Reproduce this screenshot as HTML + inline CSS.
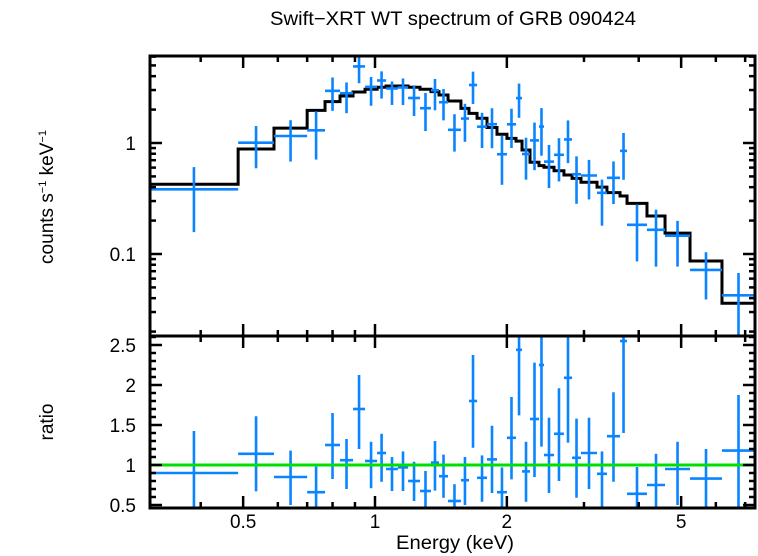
<!DOCTYPE html>
<html><head><meta charset="utf-8"><style>
html,body{margin:0;padding:0;background:#fff;overflow:hidden;}
svg{display:block;font-family:"Liberation Sans",sans-serif;}
</style></head><body>
<svg id="chart" width="758" height="556" viewBox="0 0 758 556" xmlns="http://www.w3.org/2000/svg">
<text x="453" y="25" font-size="19" text-anchor="middle" textLength="366" lengthAdjust="spacingAndGlyphs">Swift−XRT WT spectrum of GRB 090424</text>
<text transform="translate(53,197) rotate(-90)" font-size="19" text-anchor="middle">counts s<tspan font-size="11" dy="-7">−1</tspan><tspan dy="7"> keV</tspan><tspan font-size="11" dy="-7">−1</tspan></text>
<text transform="translate(53,422) rotate(-90)" font-size="19" text-anchor="middle">ratio</text>
<text x="455" y="549" font-size="19" text-anchor="middle" textLength="118" lengthAdjust="spacingAndGlyphs">Energy (keV)</text>
<defs>
<clipPath id="ctop"><rect x="150" y="56" width="605" height="280"/></clipPath>
<clipPath id="cbot"><rect x="150" y="336" width="605" height="172"/></clipPath>
</defs>
<g id="topPanel" clip-path="url(#ctop)"></g>
<g id="botPanel" clip-path="url(#cbot)"></g>
<g id="axes"></g>
</svg>
<script>
// bin edges (keV)
const edges=[0.306,0.487,0.588,0.70,0.769,0.832,0.891,0.949,1.011,1.06,1.128,1.19,1.267,1.342,1.40,1.468,1.571,1.639,1.71,1.802,1.899,2.001,2.099,2.166,2.259,2.368,2.431,2.563,2.70,2.818,2.953,3.213,3.385,3.626,3.762,4.178,4.594,5.239,6.197,7.373];
// model counts s-1 keV-1 per bin
const model=[0.425,0.883,1.36,1.97,2.36,2.65,2.88,3.05,3.18,3.26,3.26,3.18,3.05,2.90,2.71,2.39,2.05,1.85,1.67,1.38,1.20,1.10,1.04,0.865,0.67,0.625,0.604,0.563,0.515,0.48,0.443,0.40,0.357,0.333,0.286,0.22,0.154,0.0865,0.036];
// data/model ratio and its error bounds
const ratio=[0.90,1.14,0.85,0.66,1.25,1.06,1.70,1.05,1.15,0.95,0.97,0.80,0.675,1.03,0.86,0.55,0.81,1.80,0.84,1.07,0.66,1.34,2.44,0.92,1.575,2.25,1.125,1.39,2.09,1.09,1.15,0.89,1.36,2.55,0.64,0.75,0.95,0.83,1.18];
const ratioHi=[1.425,1.61,1.18,0.98,1.65,1.325,2.125,1.29,1.39,1.10,1.17,1.04,0.925,1.30,1.13,0.76,1.10,2.375,1.12,1.49,0.97,1.85,3.3,1.29,2.28,3.3,1.59,1.96,3.1,1.58,1.59,1.17,1.91,3.7,0.975,1.14,1.29,1.20,1.875];
const ratioLo=[0.37,0.67,0.50,0.36,0.825,0.70,1.20,0.71,0.79,0.675,0.675,0.55,0.42,0.68,0.59,0.35,0.50,1.215,0.54,0.65,0.35,0.82,1.62,0.54,0.85,1.23,0.65,0.80,1.28,0.59,0.70,0.45,0.79,1.40,0.30,0.35,0.50,0.45,0.0];
const xTicks=[0.5,1,2,5];
const xMinor=[0.4,0.6,0.7,0.8,0.9,3,4,6,7];
const yTopMajor=[0.1,1];
const yTopMinor=[0.02,0.03,0.04,0.05,0.06,0.07,0.08,0.09,0.2,0.3,0.4,0.5,0.6,0.7,0.8,0.9,2,3,4,5,6];
const yBotMajor=[0.5,1,1.5,2,2.5];

const L=150,R=755,T=56,M=336,B=508;
const xs=e=>375+438*Math.log10(e);
const yt=v=>143-111*Math.log10(Math.max(v,1e-4));
const yb=r=>465-80*(r-1);
const NS='http://www.w3.org/2000/svg';
function mk(parent,tag,at){const el=document.createElementNS(NS,tag);for(const k in at)el.setAttribute(k,at[k]);parent.appendChild(el);return el;}
const gTop=document.getElementById('topPanel'),gBot=document.getElementById('botPanel'),gAx=document.getElementById('axes');
const blue='#0a84ff';
let d='';
for(let i=0;i<model.length;i++){const y=yt(model[i]);d+=(i?'L':'M')+xs(edges[i])+','+y+'L'+xs(edges[i+1])+','+y;}
const ml=mk(gTop,'path',{d:d,fill:'none',stroke:'#000','stroke-width':3});


for(let i=0;i<ratio.length;i++){
 const x0=xs(edges[i]),x1=xs(edges[i+1]),xc=xs(Math.sqrt(edges[i]*edges[i+1]));
 const v=ratio[i]*model[i],vh=ratioHi[i]*model[i],vl=ratioLo[i]*model[i];
 const g=mk(gTop,'g',{stroke:blue,'stroke-width':2.6});
 
 
 mk(g,'line',{x1:x0,x2:x1,y1:yt(v),y2:yt(v)});
 mk(g,'line',{x1:xc,x2:xc,y1:yt(vh),y2:yt(vl)});
 const h=mk(gBot,'g',{stroke:blue,'stroke-width':2.6});
 
 
 mk(h,'line',{x1:x0,x2:x1,y1:yb(ratio[i]),y2:yb(ratio[i])});
 mk(h,'line',{x1:xc,x2:xc,y1:yb(ratioHi[i]),y2:yb(ratioLo[i])});
}
const gl=mk(gBot,'line',{x1:L,x2:R,y1:yb(1),y2:yb(1),stroke:'#00e000','stroke-width':3});


for(const [a,b,n] of [[T,M,'top-panel-frame'],[M,B,'bottom-panel-frame']]){
 const r=mk(gAx,'rect',{x:L,y:a,width:R-L,height:b-a,fill:'none',stroke:'#000','stroke-width':3});
 
 
}
function tk(xa,ya,xb,yb2){mk(gAx,'line',{x1:xa,y1:ya,x2:xb,y2:yb2,stroke:'#000','stroke-width':2.5});}
for(const e of xTicks){const x=xs(e);for(const [a,b] of [[T,M],[M,B]]){tk(x,a,x,a+12);tk(x,b,x,b-12);}
 const t=mk(gAx,'text',{x:x,y:528,'font-size':19,'text-anchor':'middle'});t.textContent=String(e);
 
 }
for(const e of xMinor){const x=xs(e);for(const [a,b] of [[T,M],[M,B]]){tk(x,a,x,a+6);tk(x,b,x,b-6);}}
for(const v of yTopMajor){const y=yt(v);tk(L,y,L+12,y);tk(R,y,R-12,y);
 const t=mk(gAx,'text',{x:136,y:y+7,'font-size':19,'text-anchor':'end'});t.textContent=String(v);
 
 }
for(const v of yTopMinor){const y=yt(v);if(y<T||y>M)continue;tk(L,y,L+6,y);tk(R,y,R-6,y);}
for(let k=5;k<=26;k++){const r=k/10;const y=yb(r);const w=(k%5===0)?12:6;tk(L,y,L+w,y);tk(R,y,R-w,y);}
for(const v of yBotMajor){const y=yb(v);
 const t=mk(gAx,'text',{x:136,y:y+7,'font-size':19,'text-anchor':'end'});t.textContent=String(v);
 
 }
</script>
</body></html>
